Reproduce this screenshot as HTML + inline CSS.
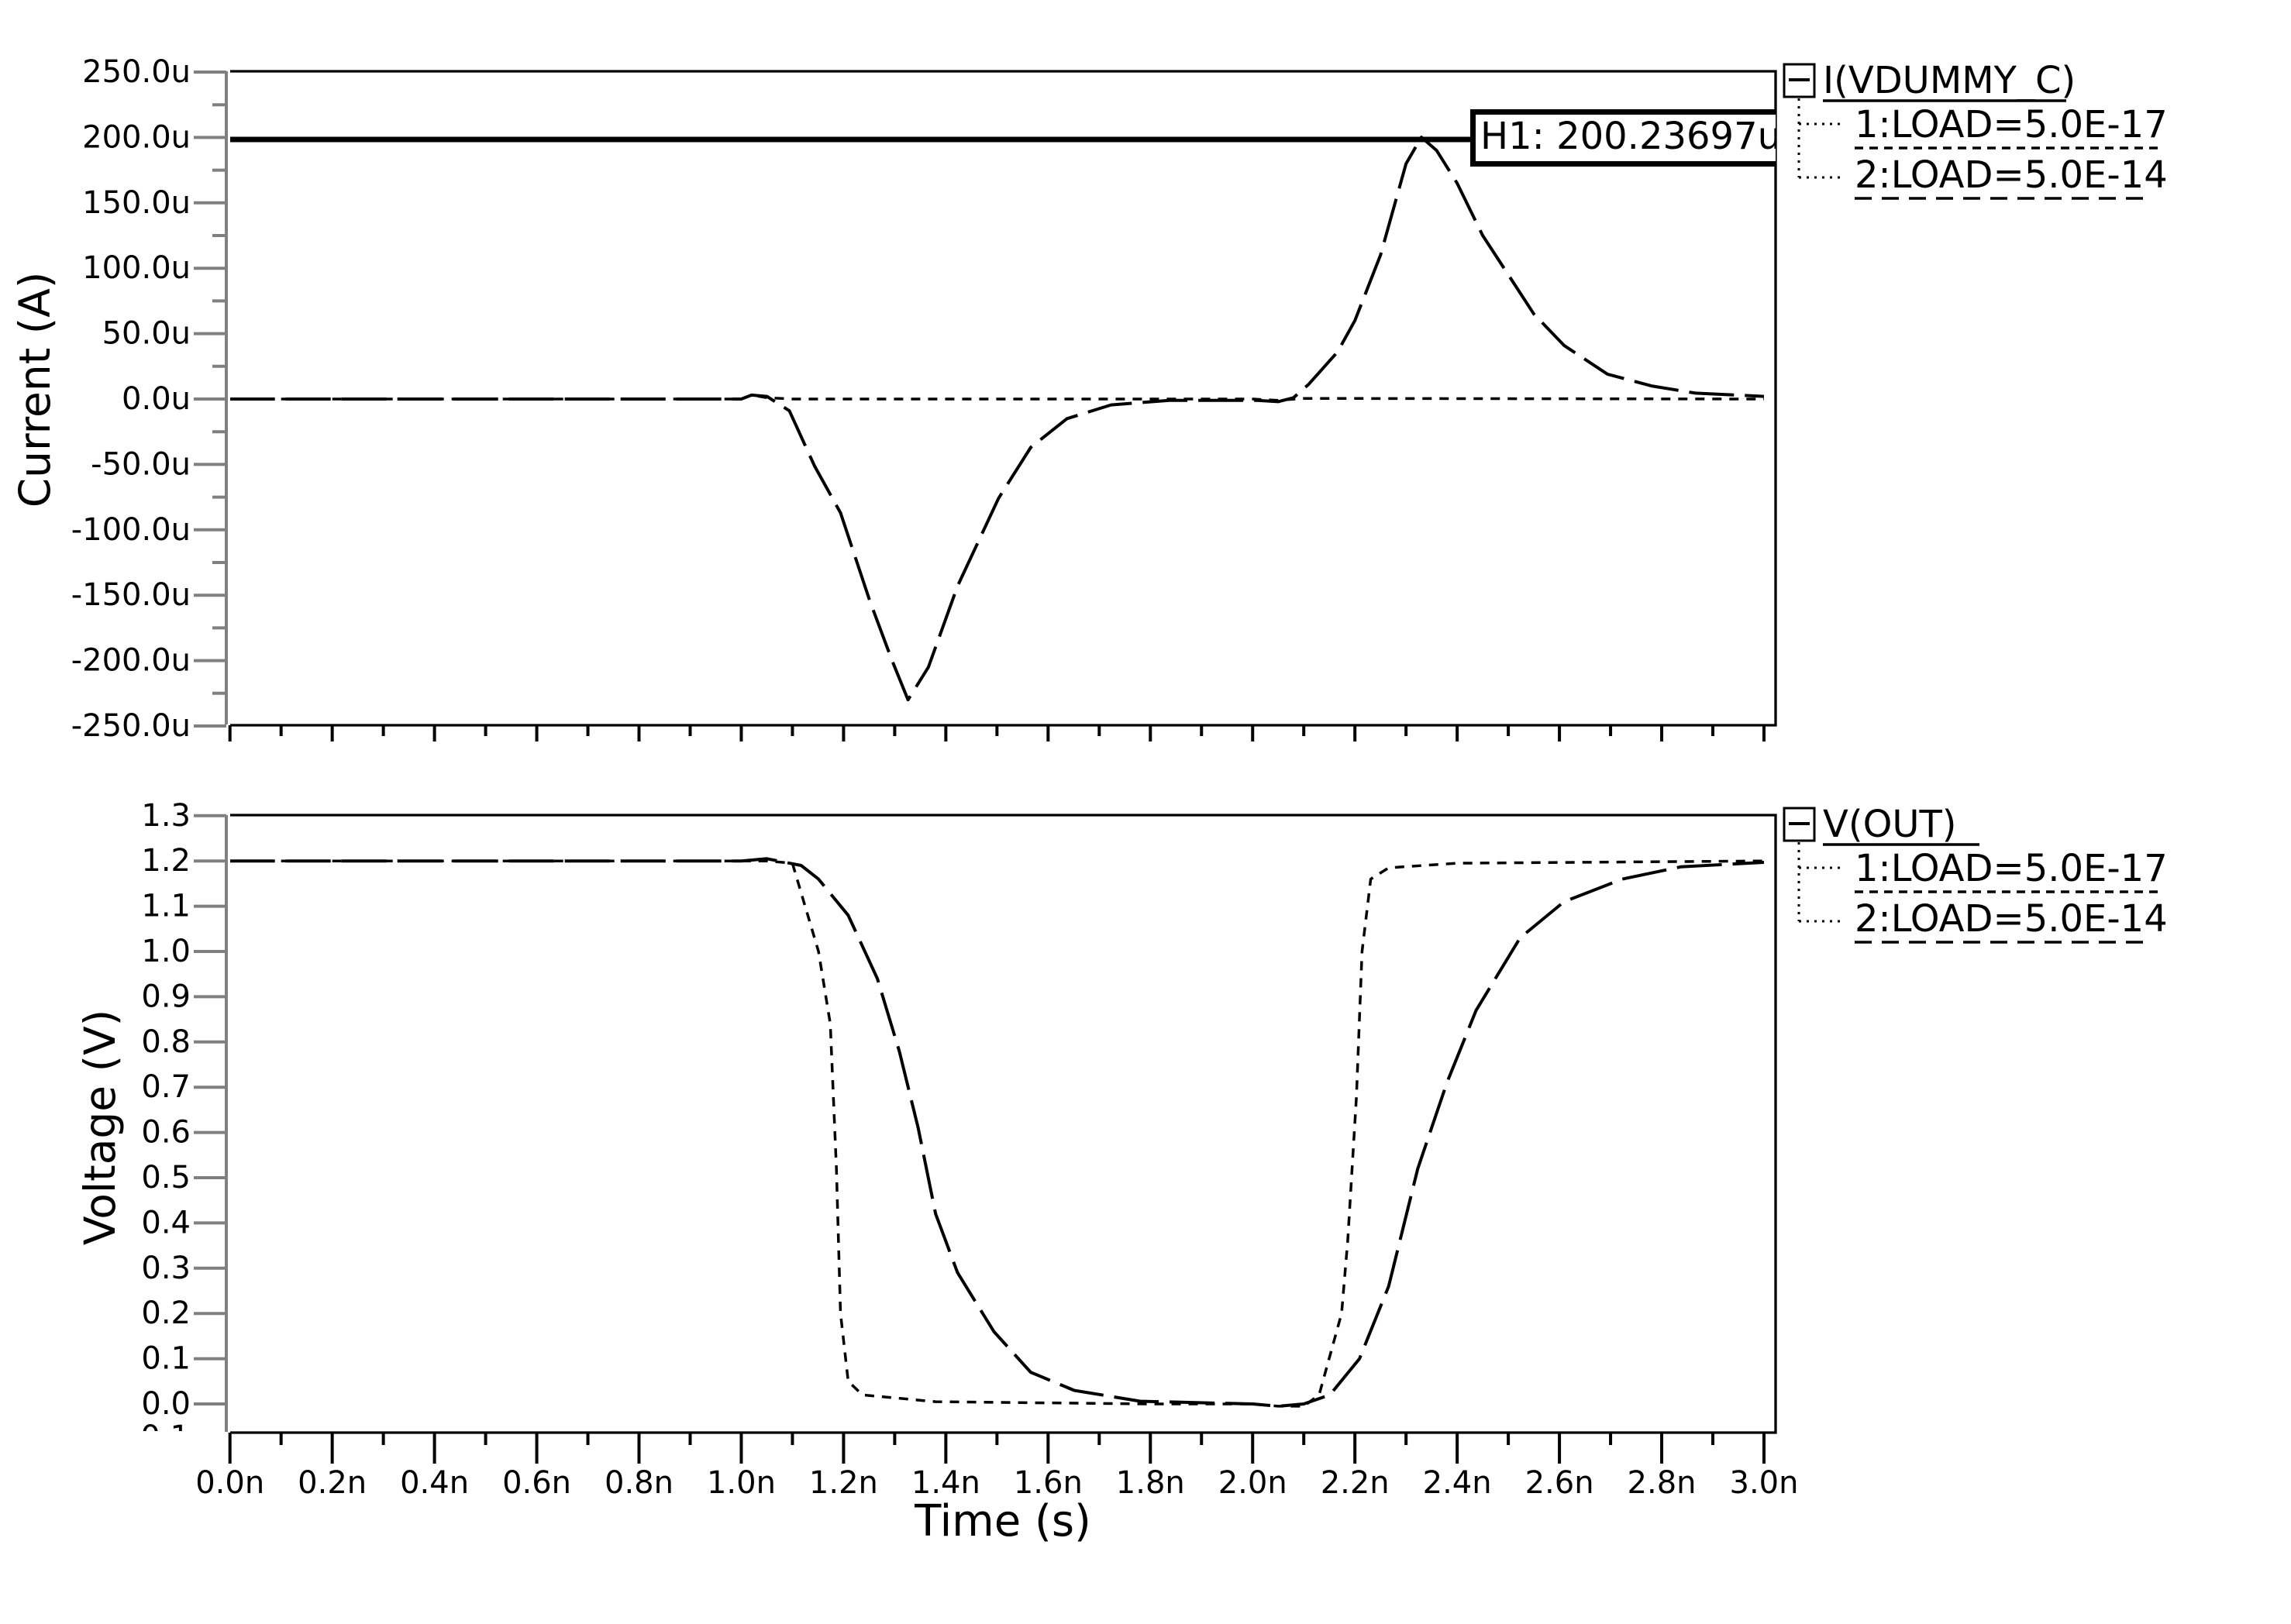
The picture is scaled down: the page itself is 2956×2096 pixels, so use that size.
<!DOCTYPE html>
<html><head><meta charset="utf-8"><style>
html,body{margin:0;padding:0;background:#fff;}
svg{display:block;font-family:"DejaVu Sans","Liberation Sans",sans-serif;}
</style></head><body>
<svg id="chart" width="2956" height="2096" viewBox="0 0 2956 2096" xmlns="http://www.w3.org/2000/svg">
<defs>
<clipPath id="clipTop"><rect x="297" y="92" width="1994" height="844"/></clipPath>
<clipPath id="clipBot"><rect x="297" y="1052" width="1994" height="797"/></clipPath>
<clipPath id="clipNeg"><rect x="150" y="1838" width="150" height="9"/></clipPath>
</defs>
<g id="gTop"></g>
<g id="gBot"></g>
<text x="45" y="503" font-size="55" text-anchor="middle" dominant-baseline="central" transform="rotate(-90 45 503)">Current (A)</text>
<text x="129" y="1455" font-size="55" text-anchor="middle" dominant-baseline="central" transform="rotate(-90 129 1455)">Voltage (V)</text>
<text x="1294" y="1982" font-size="56" text-anchor="middle">Time (s)</text>
<text x="245" y="1868" font-size="40" text-anchor="end" clip-path="url(#clipNeg)">-0.1</text>
</svg>
<script>
// ---- data ----
const tI2 = [0,1.0,1.02,1.05,1.094,1.143,1.194,1.251,1.294,1.326,1.366,1.423,1.503,1.566,1.637,1.723,1.837,2.009,2.05,2.08,2.109,2.166,2.2,2.25,2.3,2.33,2.36,2.4,2.45,2.5,2.55,2.609,2.694,2.78,2.866,3.0];
const iLoad2 = [0,0,3,2,-9,-51,-87,-154,-199,-230,-205,-143,-76,-37,-15,-4.5,-1,-1,-2,1,11,36,60,110,180,200.2,190,165,125,95,65,41,19,10,4.5,2];
const tI1 = [0,1.0,1.02,1.05,1.1,2.0,2.05,2.1,3.0];
const iLoad1 = [0,0,3,1,0,0,-1,0.5,0];
const tV1 = [0,1.05,1.1,1.151,1.174,1.186,1.194,1.209,1.237,1.38,1.8,2.0,2.05,2.1,2.13,2.174,2.186,2.203,2.214,2.231,2.266,2.4,3.0];
const vLoad1 = [1.2,1.2,1.195,1.0,0.84,0.52,0.2,0.05,0.02,0.005,0,0,-0.005,-0.005,0.02,0.2,0.36,0.68,1.0,1.16,1.185,1.195,1.2];
const tV2 = [0,1.0,1.05,1.117,1.151,1.209,1.266,1.309,1.346,1.38,1.423,1.494,1.566,1.651,1.78,2.0,2.05,2.1,2.151,2.209,2.266,2.323,2.38,2.437,2.523,2.609,2.723,2.837,3.0];
const vLoad2 = [1.2,1.2,1.205,1.19,1.16,1.08,0.94,0.78,0.61,0.42,0.29,0.16,0.07,0.03,0.006,0,-0.005,0,0.02,0.1,0.26,0.52,0.71,0.87,1.03,1.11,1.16,1.187,1.197];
const xTickLabels = ["0.0n","0.2n","0.4n","0.6n","0.8n","1.0n","1.2n","1.4n","1.6n","1.8n","2.0n","2.2n","2.4n","2.6n","2.8n","3.0n"];
const iTickLabels = ["250.0u","200.0u","150.0u","100.0u","50.0u","0.0u","-50.0u","-100.0u","-150.0u","-200.0u","-250.0u"];
const vTickLabels = ["1.3","1.2","1.1","1.0","0.9","0.8","0.7","0.6","0.5","0.4","0.3","0.2","0.1","0.0"];
const markerValue = 200.23697;
const markerLabel = "H1: 200.23697u";

// ---- axes ----
const NS="http://www.w3.org/2000/svg";
function xs(t){return 296.7 + t*(2276-296.7)/3.0;}
function yI(i){return 515 - i*(84.4/50);}
function yV(v){return 1812 - v*584;}
function mk(tag,attrs,parent){const e=document.createElementNS(NS,tag);for(const k in attrs)e.setAttribute(k,attrs[k]);parent.appendChild(e);return e;}
const gTop=document.getElementById('gTop'), gBot=document.getElementById('gBot');

function frame(g,top,bot,name){
  let r=mk('path',{d:`M297 ${top} H2291 V${bot} H297`,fill:'none',stroke:'#000','stroke-width':3.3},g);
  
  
  let a=mk('line',{x1:292,y1:top,x2:292,y2:bot-1,stroke:'#808080','stroke-width':4},g);
  
  
}
frame(gTop,92,936,'current');
frame(gBot,1052,1849,'voltage');

for(let k=0;k<=30;k++){
  const t=k*0.1, x=xs(t), major=(k%2===0);
  let l1=mk('line',{x1:x,y1:936,x2:x,y2:936+(major?21:14),stroke:'#000','stroke-width':4},gTop);
  
  
  let l2=mk('line',{x1:x,y1:1849,x2:x,y2:1849+(major?40:16),stroke:'#000','stroke-width':4},gBot);
  
  
  if(major){
    let tx=mk('text',{x:x,y:1927,'font-size':40,'text-anchor':'middle'},gBot);
    tx.textContent=xTickLabels[k/2];
    
    
  }
}
iTickLabels.forEach((lab,k)=>{
  const v=250-k*50, y=yI(v);
  let l=mk('line',{x1:250,y1:y,x2:292,y2:y,stroke:'#808080','stroke-width':4},gTop);
  
  
  let tx=mk('text',{x:246,y:y,'font-size':40,'text-anchor':'end','dominant-baseline':'central'},gTop);
  tx.textContent=lab;
  
  
  if(k<iTickLabels.length-1){
    const ym=yI(v-25);
    let m=mk('line',{x1:274,y1:ym,x2:292,y2:ym,stroke:'#808080','stroke-width':4},gTop);
    
    
  }
});
vTickLabels.forEach((lab,k)=>{
  const v=parseFloat(lab), y=yV(v);
  let l=mk('line',{x1:250,y1:y,x2:292,y2:y,stroke:'#808080','stroke-width':4},gBot);
  
  
  let tx=mk('text',{x:246,y:y,'font-size':40,'text-anchor':'end','dominant-baseline':'central'},gBot);
  tx.textContent=lab;
  
  
});

function series(g,ts,vs,yf,dash,w,clip,name){
  const d=ts.map((t,i)=>(i?'L':'M')+xs(t).toFixed(1)+' '+yf(vs[i]).toFixed(1)).join(' ');
  let p=mk('path',{d:d,fill:'none',stroke:'#000','stroke-width':w,'stroke-dasharray':dash,'clip-path':clip,'stroke-linejoin':'round'},g);
  
  
}
series(gTop,tI1,iLoad1,yI,'12 10',3.5,'url(#clipTop)','current-load-5e-17-line');
series(gTop,tI2,iLoad2,yI,'58 14',4,'url(#clipTop)','current-load-5e-14-line');
series(gBot,tV1,vLoad1,yV,'12 10',3.5,'url(#clipBot)','voltage-load-5e-17-line');
series(gBot,tV2,vLoad2,yV,'58 14',4,'url(#clipBot)','voltage-load-5e-14-line');

const ym=yI(markerValue);
let mg=mk('g',{'clip-path':'url(#clipTop)'},gTop);


mk('line',{x1:297,y1:ym+3,x2:1900,y2:ym+3,stroke:'#000','stroke-width':7},mg);
mk('rect',{x:1900.5,y:144.5,width:420,height:67,fill:'#fff',stroke:'#000','stroke-width':7},mg);
let mt=mk('text',{x:1910,y:192,'font-size':48},mg);
mt.textContent=markerLabel;



function legend(dy,title,tw,name){
  const g=mk('g',{transform:`translate(0 ${dy})`},document.getElementById('chart'));
  
  
  let b=mk('rect',{x:2302,y:83,width:39,height:42,fill:'#fff',stroke:'#000','stroke-width':3},g);
  
  
  mk('line',{x1:2308,y1:103,x2:2335,y2:103,stroke:'#000','stroke-width':4},g);
  let t=mk('text',{x:2352,y:120,'font-size':48},g);
  t.textContent=title;
  
  
  mk('line',{x1:2352,y1:130,x2:2352+tw,y2:130,stroke:'#000','stroke-width':3.5},g);
  mk('path',{d:'M2321 127 V229 M2321 160 H2380 M2321 229 H2380',fill:'none',stroke:'#000','stroke-width':3,'stroke-dasharray':'3 7'},g);
  let e1=mk('text',{x:2393,y:177,'font-size':48},g);
  e1.textContent='1:LOAD=5.0E-17';
  
  
  mk('line',{x1:2393,y1:191,x2:2785,y2:191,stroke:'#000','stroke-width':3.5,'stroke-dasharray':'11 8'},g);
  let e2=mk('text',{x:2393,y:242,'font-size':48},g);
  e2.textContent='2:LOAD=5.0E-14';
  
  
  mk('line',{x1:2393,y1:256,x2:2770,y2:256,stroke:'#000','stroke-width':3.5,'stroke-dasharray':'22 13'},g);
}
legend(0,'I(VDUMMY_C)',314,'current-legend');
legend(960,'V(OUT)',202,'voltage-legend');
</script>
</body></html>
